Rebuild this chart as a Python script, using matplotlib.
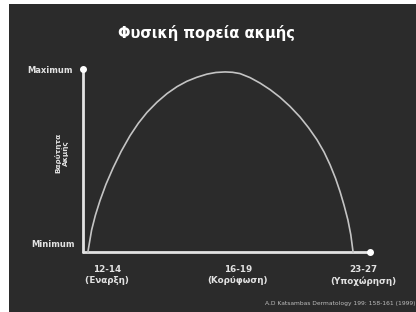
import matplotlib
matplotlib.use("Agg")
import matplotlib.pyplot as plt
from matplotlib.patches import Rectangle

# curve (x: 0..100 along the axis, y: 0=Minimum, 100=Maximum)
curve_x = [1.7, 3.0, 4.3, 5.9, 8.0, 10.5, 13.3, 16.4, 19.3, 22.3, 25.8, 29.3, 32.8, 36.2,
           39.7, 43.2, 46.3, 49.5, 52.1, 54.7, 58.2, 61.7, 65.2, 68.6, 72.1, 75.6, 78.6,
           81.5, 84.0, 86.1, 88.0, 89.6, 91.0, 92.3, 93.3, 94.1]
curve_y = [0.0, 12.0, 20.0, 28.0, 37.0, 46.0, 55.0, 63.6, 70.4, 76.3, 81.9, 86.6, 90.4, 93.3,
           95.5, 97.2, 98.1, 98.4, 98.2, 97.5, 95.3, 92.3, 88.7, 84.6, 79.6, 73.8, 67.9,
           61.4, 54.6, 47.6, 40.2, 32.8, 25.3, 17.5, 9.5, 0.0]

x_ticks = [8.4, 54.0, 97.6]
x_labels = ["12-14\n(Έναρξη)", "16-19\n(Κορύφωση)", "23-27\n(Υποχώρηση)"]
title = "Φυσική πορεία ακμής"
y_title = "Βαρύτητα\nΑκμής"
source = "A.D Katsambas Dermatology 199: 158-161 (1999)"

bg = '#2b2b2b'
fg = '#e2e2e2'

fig = plt.figure(figsize=(4.16, 3.12), dpi=100, facecolor='white')
# dark slide background with thin white strip on the left and top
back = fig.add_axes([0, 0, 1, 1], zorder=-1)
back.axis('off')
back.add_patch(Rectangle((9 / 416, 0), 1, 1 - 4 / 312, transform=back.transAxes,
                         facecolor=bg, edgecolor='none'))

ax = fig.add_axes([83 / 416, 1 - 252 / 312, 287 / 416, 183 / 312], zorder=2)
ax.set_facecolor('none')
ax.set_xlim(0, 100)
ax.set_ylim(0, 100)
for s in ax.spines.values():
    s.set_visible(False)
ax.set_xticks([])
ax.set_yticks([])

# axes with dot ends
ax.plot([0, 0], [0, 100], color=fg, lw=2, clip_on=False, solid_capstyle='round')
ax.plot([0, 100], [0, 0], color=fg, lw=2, clip_on=False, solid_capstyle='round')
ax.plot([0], [100], 'o', color='white', ms=4, clip_on=False)
ax.plot([100], [0], 'o', color='white', ms=4, clip_on=False)

ax.plot(curve_x, curve_y, color='#c4c4c4', lw=1.2, clip_on=False, solid_joinstyle='round')

ax.text(-3.5, 99, "Maximum", color=fg, fontsize=6, fontweight='bold', ha='right', va='center')
ax.text(-3, 4, "Minimum", color=fg, fontsize=6, fontweight='bold', ha='right', va='center')
ax.text(-7.5, 54, y_title, color=fg, fontsize=5.2, fontweight='bold', rotation=90,
        ha='center', va='center', linespacing=1.1)

for xt, lab in zip(x_ticks, x_labels):
    ax.text(xt, -7, lab, color=fg, fontsize=6.3, fontweight='bold', ha='center', va='top',
            linespacing=1.3)

fig.text(206 / 416, 1 - 33 / 312, title, color='white', fontsize=10.5, fontweight='bold',
         ha='center', va='center')
fig.text(0.998, 1 - 303 / 312, source, color='#bdbdbd', fontsize=4.3, ha='right', va='center')

fig.savefig("out.png", dpi=100, facecolor='white')
